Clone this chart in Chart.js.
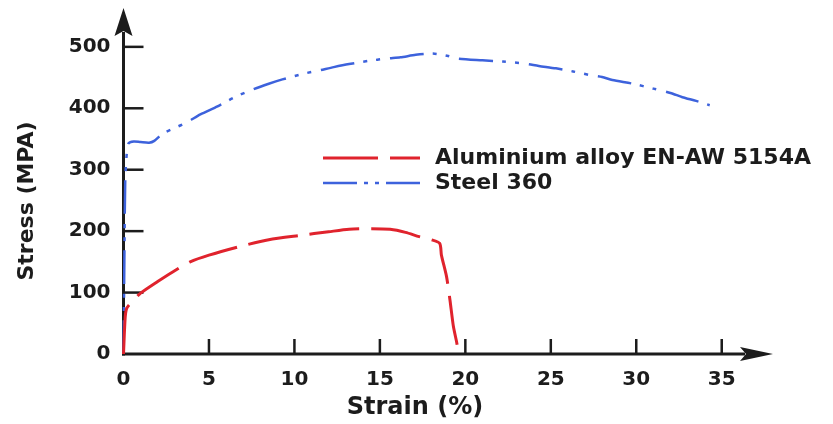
<!DOCTYPE html>
<html>
<head>
<meta charset="utf-8">
<script src="https://cdn.jsdelivr.net/npm/chart.js@4.4.1/dist/chart.umd.min.js"></script>
<style>
  html, body { margin: 0; padding: 0; background: #ffffff; }
  #wrap { width: 833px; height: 424px; position: relative; }
</style>
</head>
<body>
<div id="wrap"><canvas id="c" width="833" height="424"></canvas></div>
<script>
// Tensile test curves: stress (MPa) against strain (%)
const seriesNames = ['Aluminium alloy EN-AW 5154A', 'Steel 360'];

const aluStrain = [0, 0.1, 0.2, 0.5, 1.0, 2.0, 2.9, 3.9, 5.0, 6.8, 8.5, 10.3, 12.0, 13.2, 14.5, 15.6, 16.5, 17.3, 18.0, 18.5, 18.6, 18.9, 19.1, 19.3, 19.5, 19.6];
const aluStress = [0, 60, 75, 85, 99, 118, 134, 150, 161, 175, 186, 193, 199, 203, 204, 203, 198, 191, 186, 180, 161, 126, 88, 45, 18, 0];

const steelStrain = [0, 0.05, 0.1, 0.2, 0.3, 0.6, 1.0, 1.5, 1.8, 2.3, 3.0, 3.7, 4.5, 5.5, 6.5, 7.6, 8.5, 9.3, 10.5, 11.5, 12.3, 13.2, 14.3, 15.4, 16.2, 17.1, 18.1, 19.0, 19.5, 21.0, 22.2, 23.4, 24.3, 25.3, 26.3, 27.3, 28.0, 28.6, 29.8, 31.0, 32.0, 32.7, 33.5, 34.3];
const steelStress = [0, 150, 280, 330, 343, 346, 345, 344, 347, 359, 368, 377, 390, 403, 418, 431, 440, 447, 456, 462, 467, 472, 477, 481, 483, 487, 489, 485, 481, 478, 476, 473, 469, 465, 460, 454, 451, 446, 440, 432, 425, 418, 412, 405];

const strainTicks = [0, 5, 10, 15, 20, 25, 30, 35];
const stressTicks = [0, 100, 200, 300, 400, 500];

const xTitle = 'Strain (%)';
const yTitle = 'Stress (MPA)';

const toPoints = (xs, ys) => xs.map((v, i) => ({ x: v, y: ys[i] }));

const INK = '#1c1c1c';
const FONT = '"DejaVu Sans", "Liberation Sans", Arial, sans-serif';

// Arrowed axes, inward tick marks, axis titles and the legend
const arrowAxes = {
  id: 'arrowAxes',
  beforeDatasetsDraw(chart) {
    const { ctx, chartArea: a, scales: { x, y } } = chart;
    const x0 = x.getPixelForValue(0);
    const y0 = y.getPixelForValue(0);
    ctx.save();
    ctx.strokeStyle = INK;
    ctx.fillStyle = INK;
    ctx.lineCap = 'butt';

    // horizontal axis with arrow head
    ctx.lineWidth = 3;
    ctx.beginPath();
    ctx.moveTo(x0 - 1.5, y0);
    ctx.lineTo(a.right - 28, y0);
    ctx.stroke();
    ctx.beginPath();
    ctx.moveTo(a.right, y0);
    ctx.lineTo(a.right - 33, y0 - 7);
    ctx.lineTo(a.right - 27, y0);
    ctx.lineTo(a.right - 33, y0 + 7);
    ctx.closePath();
    ctx.fill();

    // vertical axis with arrow head
    ctx.beginPath();
    ctx.moveTo(x0, y0 + 1.5);
    ctx.lineTo(x0, a.top + 22);
    ctx.stroke();
    ctx.beginPath();
    ctx.moveTo(x0, a.top - 2);
    ctx.lineTo(x0 - 9, a.top + 26);
    ctx.lineTo(x0, a.top + 21);
    ctx.lineTo(x0 + 9, a.top + 26);
    ctx.closePath();
    ctx.fill();

    // tick marks pointing into the plot
    ctx.lineWidth = 2.5;
    strainTicks.forEach(v => {
      if (v === 0) return;
      const px = x.getPixelForValue(v);
      ctx.beginPath();
      ctx.moveTo(px, y0);
      ctx.lineTo(px, y0 - 15);
      ctx.stroke();
    });
    stressTicks.forEach(v => {
      if (v === 0) return;
      const py = y.getPixelForValue(v);
      ctx.beginPath();
      ctx.moveTo(x0, py);
      ctx.lineTo(x0 + 20, py);
      ctx.stroke();
    });

    // axis titles
    ctx.fillStyle = INK;
    ctx.textBaseline = 'middle';
    ctx.textAlign = 'center';
    ctx.font = 'bold 24px ' + FONT;
    ctx.fillText(xTitle, 415, 408);
    ctx.save();
    ctx.translate(27, 201);
    ctx.rotate(-Math.PI / 2);
    ctx.font = 'bold 22px ' + FONT;
    ctx.fillText(yTitle, 0, 0);
    ctx.restore();
    ctx.restore();
  },
  afterDatasetsDraw(chart) {
    const { ctx } = chart;
    ctx.save();
    const rows = [158, 183];
    chart.data.datasets.forEach((ds, i) => {
      const yy = rows[i];
      ctx.strokeStyle = ds.borderColor;
      ctx.lineWidth = ds.borderWidth;
      ctx.setLineDash(ds.legendDash);
      ctx.beginPath();
      ctx.moveTo(323, yy);
      ctx.lineTo(420, yy);
      ctx.stroke();
      ctx.setLineDash([]);
      ctx.fillStyle = INK;
      ctx.font = 'bold 22px ' + FONT;
      ctx.textAlign = 'left';
      ctx.textBaseline = 'middle';
      ctx.fillText(ds.label, 435, yy);
    });
    ctx.restore();
  }
};

new Chart(document.getElementById('c'), {
  type: 'line',
  data: {
    datasets: [
      {
        label: seriesNames[0],
        data: toPoints(aluStrain, aluStress),
        borderColor: '#e0232d',
        borderWidth: 3,
        borderDash: [50, 12],
        legendDash: [55, 12],
        pointRadius: 0,
        tension: 0.25,
        fill: false,
        clip: 8
      },
      {
        label: seriesNames[1],
        data: toPoints(steelStrain, steelStress),
        borderColor: '#3d62dc',
        borderWidth: 2.5,
        borderDash: [34, 9, 4, 9, 4, 10],
        legendDash: [34, 7, 4, 7, 4, 7],
        pointRadius: 0,
        tension: 0.25,
        fill: false,
        clip: 8
      }
    ]
  },
  options: {
    responsive: false,
    animation: false,
    devicePixelRatio: 1,
    layout: { padding: { left: 0, right: 60, top: 10, bottom: 0 } },
    plugins: {
      legend: { display: false },
      tooltip: { enabled: false }
    },
    scales: {
      x: {
        type: 'linear',
        min: 0,
        max: 38,
        grid: { display: false, drawTicks: false },
        border: { display: false },
        ticks: {
          color: INK,
          padding: 14,
          maxRotation: 0,
          font: { family: FONT, weight: 'bold', size: 20 }
        },
        afterBuildTicks(s) { s.ticks = strainTicks.map(v => ({ value: v })); },
        afterFit(s) { s.height = 70; s.paddingLeft = 0; s.paddingRight = 0; }
      },
      y: {
        type: 'linear',
        min: 0,
        max: 560,
        grid: { display: false, drawTicks: false },
        border: { display: false },
        ticks: {
          color: INK,
          padding: 13,
          font: { family: FONT, weight: 'bold', size: 20 }
        },
        afterBuildTicks(s) { s.ticks = stressTicks.map(v => ({ value: v })); },
        afterFit(s) { s.width = 123.5; s.paddingTop = 0; s.paddingBottom = 0; }
      }
    }
  },
  plugins: [arrowAxes]
});
</script>
</body>
</html>
